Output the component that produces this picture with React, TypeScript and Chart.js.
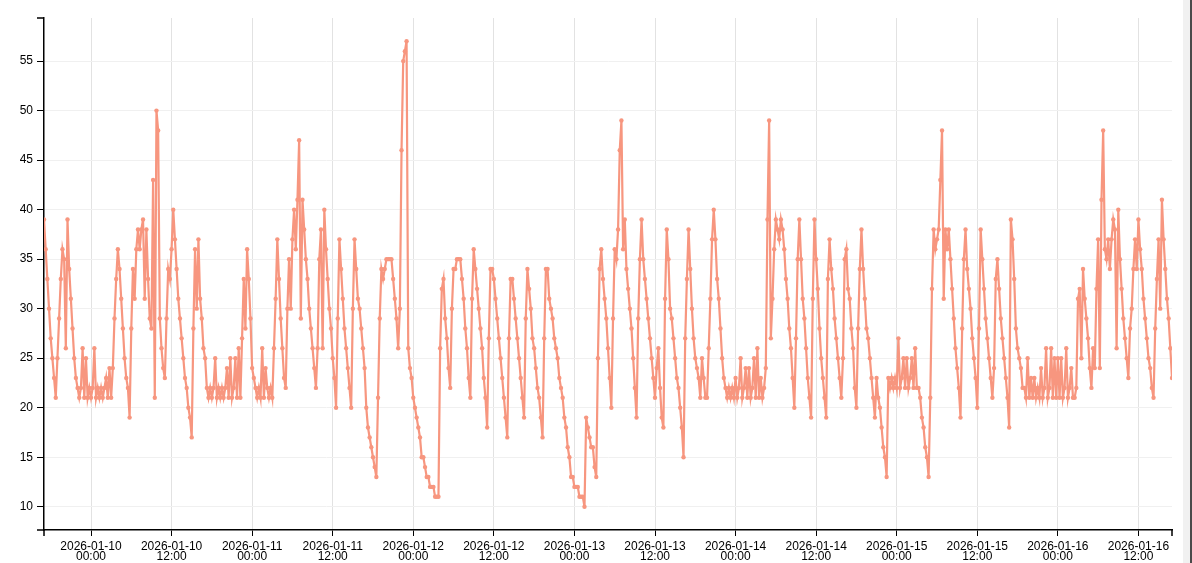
import React, { useEffect, useRef } from "react";
import { Chart, registerables } from "chart.js";

Chart.register(...registerables);

// ---- data (one reading every 15 minutes, starting 2026-01-09 17:00) ----
const SERIES_START = "2026-01-09T17:00:00Z";
const STEP_MINUTES = 15;

const day1: number[] = [
  39, 36, 33, 30, 27, 25, 23, 21, 25, 29, 33, 36, 35, 26, 39, 34, 31, 28, 25, 23,
  22, 21, 22, 26, 21, 25, 21, 22, 21, 22, 26, 21, 22, 21, 22, 21, 22, 23, 21, 24,
  21, 24, 29, 33, 36, 34, 31, 28, 25, 23, 22, 19, 28, 34, 31, 36, 38, 36, 38, 39,
  31, 38, 33, 29, 28, 43, 21, 50, 48, 29, 26, 24, 23, 29, 34, 33, 36, 40, 37, 34,
  31, 29, 27, 25, 23, 22, 20, 19, 17, 28, 36, 30, 37, 31, 29, 26,
];
const day2: number[] = [
  25, 22, 21, 22, 21, 22, 25, 21, 22, 21, 22, 21, 22, 24, 21, 25, 21, 22, 25, 21,
  26, 21, 27, 33, 28, 36, 33, 29, 24, 23, 22, 21, 22, 21, 26, 21, 24, 22, 21, 22,
  21, 26, 31, 37, 33, 29, 26, 23, 22, 30, 35, 30, 37, 40, 36, 41, 47, 29, 41, 38,
  35, 33, 30, 28, 26, 24, 22, 26, 35, 38, 26, 40, 36, 33, 30, 28, 25, 23, 20, 29,
  37, 34, 31, 28, 26, 24, 22, 20, 30, 37, 34, 31, 30, 28, 26, 24,
];
const day3: number[] = [
  20, 18, 17, 16, 15, 14, 13, 21, 29, 34, 33, 34, 35, 35, 35, 35, 33, 31, 29, 26,
  30, 46, 55, 56, 57, 26, 24, 23, 21, 20, 19, 18, 17, 15, 15, 14, 13, 13, 12, 12,
  12, 11, 11, 11, 26, 32, 33, 29, 27, 24, 22, 30, 34, 34, 35, 35, 35, 33, 31, 28,
  26, 23, 21, 31, 36, 34, 32, 30, 28, 26, 23, 21, 18, 27, 34, 34, 33, 31, 29, 27,
  25, 23, 21, 19, 17, 27, 33, 33, 31, 29, 27, 25, 23, 21, 19, 29,
];
const day4: number[] = [
  34, 32, 30, 27, 26, 24, 22, 21, 19, 17, 27, 34, 34, 31, 30, 29, 27, 26, 25, 23,
  22, 21, 19, 18, 16, 15, 13, 13, 12, 12, 12, 11, 11, 11, 10, 19, 18, 17, 16, 16,
  14, 13, 25, 34, 36, 33, 31, 29, 26, 23, 20, 29, 36, 35, 38, 46, 49, 36, 39, 34,
  32, 30, 28, 25, 22, 19, 29, 35, 39, 35, 33, 31, 29, 27, 25, 23, 21, 24, 26, 22,
  19, 18, 31, 38, 35, 30, 29, 27, 25, 23, 22, 20, 18, 15, 27, 33,
];
const day5: number[] = [
  38, 34, 30, 27, 25, 24, 23, 21, 25, 23, 21, 21, 26, 31, 37, 40, 37, 33, 31, 28,
  25, 23, 22, 21, 22, 21, 22, 21, 23, 21, 22, 25, 21, 22, 24, 21, 24, 21, 22, 25,
  21, 26, 21, 23, 21, 22, 24, 39, 49, 27, 31, 36, 39, 38, 37, 39, 38, 36, 33, 31,
  28, 26, 23, 20, 27, 35, 39, 35, 31, 29, 26, 23, 21, 19, 31, 39, 35, 32, 28, 25,
  23, 21, 19, 33, 37, 34, 32, 29, 27, 25, 23, 21, 25, 35, 36, 32,
];
const day6: number[] = [
  31, 28, 26, 22, 20, 28, 34, 38, 34, 31, 28, 27, 25, 23, 21, 19, 23, 21, 20, 18,
  16, 15, 13, 23, 22, 23, 22, 23, 22, 27, 22, 23, 25, 22, 25, 22, 23, 25, 22, 26,
  22, 22, 21, 19, 18, 16, 15, 13, 21, 32, 38, 36, 37, 38, 43, 48, 31, 38, 36, 38,
  35, 32, 29, 26, 24, 22, 19, 28, 35, 38, 34, 32, 30, 27, 25, 23, 20, 28, 38, 35,
  32, 29, 27, 25, 23, 21, 24, 33, 35, 32, 29, 27, 25, 23, 21, 18,
];
const day7: number[] = [
  39, 37, 33, 28, 26, 25, 24, 22, 22, 21, 25, 21, 23, 21, 23, 21, 22, 21, 24, 21,
  22, 26, 21, 22, 26, 21, 25, 21, 25, 21, 25, 21, 22, 26, 21, 22, 24, 21, 21, 22,
  31, 32, 25, 34, 31, 29, 27, 24, 22, 26, 24, 32, 37, 24, 41, 48, 36, 35, 37, 34,
  37, 39, 38, 26, 40, 35, 32, 29, 27, 25, 23, 28, 30, 34, 37, 34, 39, 36, 34, 31,
  29, 27, 25, 24, 22, 21, 28, 33, 37, 30, 41, 37, 34, 31, 29, 26, 23,
];

const X_TICKS = [
  "2026-01-10T00:00:00Z", "2026-01-10T12:00:00Z",
  "2026-01-11T00:00:00Z", "2026-01-11T12:00:00Z",
  "2026-01-12T00:00:00Z", "2026-01-12T12:00:00Z",
  "2026-01-13T00:00:00Z", "2026-01-13T12:00:00Z",
  "2026-01-14T00:00:00Z", "2026-01-14T12:00:00Z",
  "2026-01-15T00:00:00Z", "2026-01-15T12:00:00Z",
  "2026-01-16T00:00:00Z", "2026-01-16T12:00:00Z",
];
const Y_TICKS = [10, 15, 20, 25, 30, 35, 40, 45, 50, 55];
const Y_MIN = 7.65;
const Y_MAX = 59.35;

// ---- styles ----
const LINE_COLOR = "#F7967F";
const FONT = "'Liberation Sans', Arial, Helvetica, sans-serif";
const W = 1192;
const H = 563;

const pad2 = (n: number) => String(n).padStart(2, "0");
function fmtTick(ms: number): string[] {
  const d = new Date(ms);
  return [
    `${d.getUTCFullYear()}-${pad2(d.getUTCMonth() + 1)}-${pad2(d.getUTCDate())}`,
    `${pad2(d.getUTCHours())}:${pad2(d.getUTCMinutes())}`,
  ];
}

const outerTicks = {
  id: "outerTicks",
  afterDraw(chart: any) {
    const { ctx, chartArea } = chart;
    const { left, right, top, bottom } = chartArea;
    ctx.save();
    ctx.strokeStyle = "#000";
    ctx.lineWidth = 1.5;
    ctx.beginPath();
    ctx.moveTo(left - 7, top);
    ctx.lineTo(left, top);
    ctx.moveTo(left - 7, bottom);
    ctx.lineTo(left, bottom);
    ctx.moveTo(left, bottom);
    ctx.lineTo(left, bottom + 6);
    ctx.moveTo(right, bottom);
    ctx.lineTo(right, bottom + 6);
    ctx.stroke();
    ctx.restore();
  },
};

export default function App() {
  const ref = useRef<HTMLCanvasElement | null>(null);

  useEffect(() => {
    if (!ref.current) return;
    const start = Date.parse(SERIES_START);
    const values = [...day1, ...day2, ...day3, ...day4, ...day5, ...day6, ...day7];
    const points = values.map((v, i) => ({ x: start + i * STEP_MINUTES * 60000, y: v }));
    const xMin = points[0].x;
    const xMax = points[points.length - 1].x;

    const chart = new Chart(ref.current, {
      type: "line",
      data: {
        datasets: [
          {
            data: points,
            borderColor: LINE_COLOR,
            backgroundColor: LINE_COLOR,
            borderWidth: 2.2,
            pointRadius: 2.2,
            pointHoverRadius: 2.2,
            pointBorderWidth: 0,
            pointBackgroundColor: LINE_COLOR,
            tension: 0,
            fill: false,
          },
        ],
      },
      options: {
        animation: false,
        responsive: false,
        maintainAspectRatio: false,
        devicePixelRatio: 1,
        layout: { padding: { top: 18, right: 20, left: 0, bottom: 0 } },
        plugins: { legend: { display: false }, tooltip: { enabled: false } },
        scales: {
          x: {
            type: "linear",
            min: xMin,
            max: xMax,
            afterBuildTicks: (s: any) => {
              s.ticks = X_TICKS.map((t) => ({ value: Date.parse(t) }));
            },
            afterFit: (s: any) => {
              s.height = 33;
            },
            grid: { color: "#e2e2e2", tickColor: "#000", tickLength: 6, lineWidth: 1 },
            border: { color: "#000", width: 1.5 },
            ticks: {
              autoSkip: false,
              maxRotation: 0,
              minRotation: 0,
              padding: 5,
              color: "#000",
              font: { family: FONT, size: 12, lineHeight: 0.88 },
              callback: (v: any) => fmtTick(Number(v)),
            },
          },
          y: {
            type: "linear",
            min: Y_MIN,
            max: Y_MAX,
            afterBuildTicks: (s: any) => {
              s.ticks = Y_TICKS.map((t) => ({ value: t }));
            },
            afterFit: (s: any) => {
              s.width = 44;
            },
            grid: { color: "#f0f0f0", tickColor: "#000", tickLength: 7, lineWidth: 1 },
            border: { color: "#000", width: 1.5 },
            ticks: {
              padding: 4,
              color: "#000",
              font: { family: FONT, size: 12 },
              callback: (v: any) => String(v),
            },
          },
        },
      },
      plugins: [outerTicks],
    });
    return () => chart.destroy();
  }, []);

  return (
    <div style={{ position: "absolute", left: 0, top: 0, width: W, height: H, background: "#fff", overflow: "hidden" }}>
      <canvas ref={ref} width={W} height={H} style={{ display: "block", width: W, height: H }} />
      <div style={{ position: "absolute", left: 1183, top: 0, width: 7, height: H, background: "#f1f1f1" }} />
      <div style={{ position: "absolute", left: 1190, top: 0, width: 2, height: H, background: "#4a4a4a" }} />
    </div>
  );
}
